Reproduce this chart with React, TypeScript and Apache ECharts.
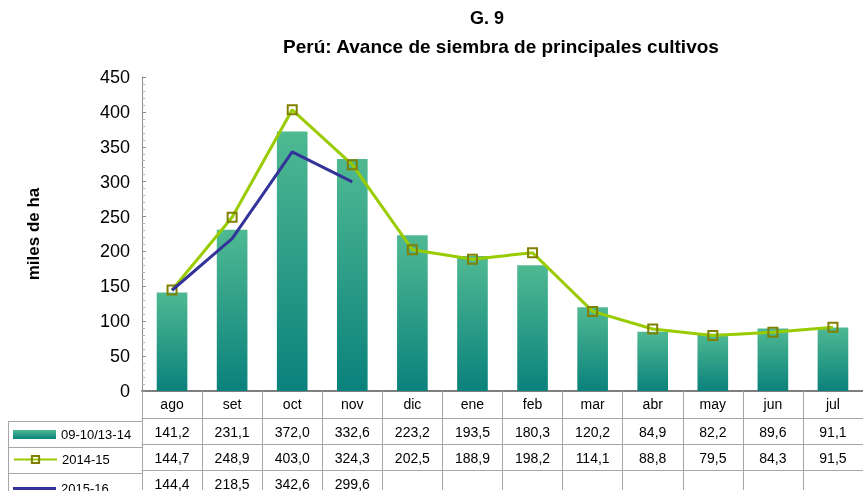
import React, { useEffect, useRef } from "react";
import * as echarts from "echarts";

const categories = ["ago", "set", "oct", "nov", "dic", "ene", "feb", "mar", "abr", "may", "jun", "jul"];
const seriesNames = ["09-10/13-14", "2014-15", "2015-16"];
const avg0910_1314 = [141.2, 231.1, 372.0, 332.6, 223.2, 193.5, 180.3, 120.2, 84.9, 82.2, 89.6, 91.1];
const s2014_15 = [144.7, 248.9, 403.0, 324.3, 202.5, 188.9, 198.2, 114.1, 88.8, 79.5, 84.3, 91.5];
const s2015_16 = [144.4, 218.5, 342.6, 299.6];
const yTicks = { min: 0, max: 450, interval: 50 };

const FONT = "'Liberation Sans', Arial, sans-serif";
const GRID_LEFT = 142;
const GRID_TOP = 77;
const GRID_BOTTOM_Y = 394;
const ROW_OFFSETS = [27, 53, 79];
const LINE_GREY = "#a6a6a6";

const fmt = (v: number | undefined) => (v === undefined ? "" : v.toFixed(1).replace(".", ","));

export default function App() {
  const ref = useRef<HTMLDivElement>(null);
  useEffect(() => {
    if (!ref.current) return;
    const chart = echarts.init(ref.current, undefined, { renderer: "svg" });
    const rows = [avg0910_1314, s2014_15, s2015_16];
    const tableAxes = rows.map((row, i) => ({
      type: "category" as const,
      data: categories,
      gridIndex: 0,
      position: "bottom" as const,
      offset: ROW_OFFSETS[i],
      boundaryGap: true,
      axisLine: { show: true, lineStyle: { color: LINE_GREY, width: 1 } },
      axisTick: { show: true, interval: 0, length: i === 2 ? 20 : 26, lineStyle: { color: LINE_GREY } },
      axisLabel: {
        show: true,
        interval: 0,
        margin: 7,
        fontSize: 14,
        color: "#000",
        fontFamily: FONT,
        formatter: (_v: string, idx: number) => fmt(row[idx]),
      },
    }));

    const legendTops = [431, 456, 482];
    const legendItems = [
      { name: seriesNames[0], icon: "rect", itemHeight: 9 },
      { name: seriesNames[1], icon: undefined, itemHeight: 9 },
      { name: seriesNames[2], icon: "rect", itemHeight: 3 },
    ];

    chart.setOption({
      animation: false,
      textStyle: { fontFamily: FONT },
      grid: { left: GRID_LEFT, right: 0, top: GRID_TOP, bottom: 491 - GRID_BOTTOM_Y, containLabel: false },
      legend: legendItems.map((it, i) => ({
        data: [it.icon ? { name: it.name, icon: it.icon } : { name: it.name }],
        left: 13,
        top: legendTops[i] - (it.itemHeight === 3 ? 0 : 3),
        padding: 0,
        orient: "horizontal",
        itemWidth: 43,
        itemHeight: it.itemHeight,
        itemGap: 5,
        selectedMode: false,
        textStyle: { fontSize: 13, color: "#000", fontFamily: FONT },
      })),
      xAxis: [
        {
          type: "category",
          data: categories,
          position: "bottom",
          boundaryGap: true,
          axisLine: { show: true, lineStyle: { color: "#7f7f7f", width: 2 } },
          axisTick: { show: true, interval: 0, length: 27, lineStyle: { color: LINE_GREY } },
          axisLabel: { interval: 0, margin: 6, fontSize: 14, color: "#000", fontFamily: FONT },
        },
        ...tableAxes,
      ],
      yAxis: {
        type: "value",
        min: yTicks.min,
        max: yTicks.max,
        interval: yTicks.interval,
        name: "miles de ha",
        nameLocation: "middle",
        nameRotate: 90,
        nameGap: 100,
        nameTextStyle: { fontSize: 17, fontWeight: "bold", color: "#000", fontFamily: FONT },
        axisLine: { show: true, lineStyle: { color: "#8c8c8c", width: 1 } },
        axisTick: { show: true, inside: true, length: 4, lineStyle: { color: "#8c8c8c" } },
        minorTick: { show: true, splitNumber: 5, length: 3, lineStyle: { color: "#b0b0b0" } },
        axisLabel: { fontSize: 18, color: "#000", margin: 12, fontFamily: FONT },
        splitLine: { show: false },
      },
      series: [
        {
          name: seriesNames[0],
          type: "bar",
          data: avg0910_1314,
          barWidth: "51%",
          itemStyle: {
            color: new echarts.graphic.LinearGradient(0, 0, 0, 1, [
              { offset: 0, color: "#4fb992" },
              { offset: 1, color: "#0a817c" },
            ]),
          },
        },
        {
          name: seriesNames[1],
          type: "line",
          data: s2014_15,
          symbol: "rect",
          symbolSize: 9,
          lineStyle: { color: "#99cc00", width: 3 },
          itemStyle: { color: "rgba(255,255,255,0)", borderColor: "#808000", borderWidth: 2 },
          z: 3,
        },
        {
          name: seriesNames[2],
          type: "line",
          data: s2015_16,
          symbol: "none",
          showSymbol: false,
          lineStyle: { color: "#333399", width: 3 },
          itemStyle: { color: "#333399" },
          z: 4,
        },
      ],
      graphic: [
        {
          type: "text",
          style: { text: "G. 9", x: 487, y: 18, textAlign: "center", textVerticalAlign: "middle", fontSize: 18, fontWeight: "bold", fill: "#000", fontFamily: FONT },
        },
        {
          type: "text",
          style: {
            text: "Perú: Avance de siembra de principales cultivos",
            x: 501,
            y: 46,
            textAlign: "center",
            textVerticalAlign: "middle",
            fontSize: 19,
            fontWeight: "bold",
            fill: "#000",
            fontFamily: FONT,
          },
        },
        ...ROW_OFFSETS.map((o) => ({
          type: "line",
          shape: { x1: 8, y1: GRID_BOTTOM_Y + o + 0.5, x2: GRID_LEFT, y2: GRID_BOTTOM_Y + o + 0.5 },
          style: { stroke: LINE_GREY, lineWidth: 1 },
        })),
        {
          type: "line",
          shape: { x1: 8.5, y1: GRID_BOTTOM_Y + ROW_OFFSETS[0], x2: 8.5, y2: 491 },
          style: { stroke: LINE_GREY, lineWidth: 1 },
        },
      ],
    });
    return () => chart.dispose();
  }, []);
  return <div ref={ref} style={{ position: "fixed", left: 0, top: 0, width: 863, height: 491 }} />;
}
